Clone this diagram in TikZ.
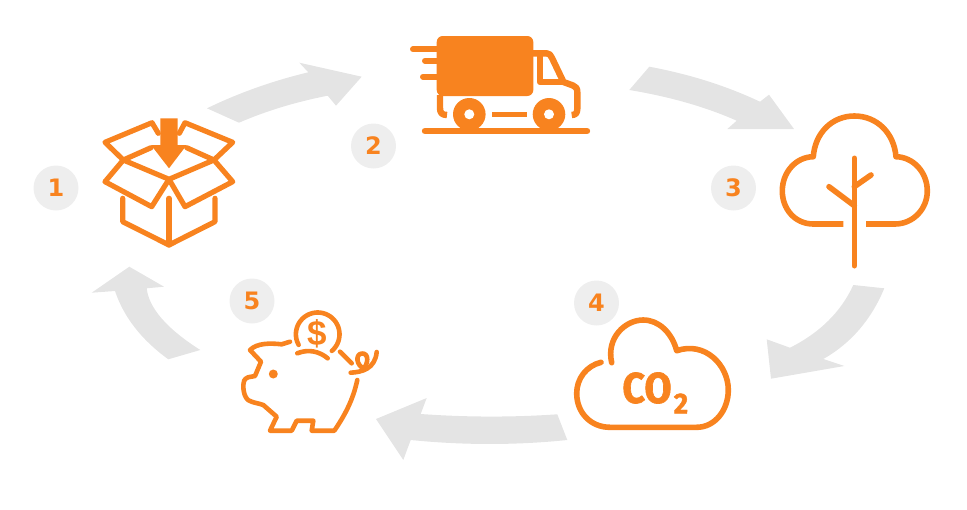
\documentclass[tikz,border=0pt]{standalone}
\usepackage{graphicx}
\usepackage{fontspec}
\setmainfont{DejaVu Sans}
\newfontfamily\labelfont[BoldFeatures={FakeBold=1.6}]{Fira Sans}
\newfontfamily\moneyfont{Liberation Sans}
\definecolor{brand}{HTML}{F8831F}
\definecolor{flow}{HTML}{E4E4E4}
\definecolor{badge}{HTML}{EEEEEE}
\tikzset{
  icon/.style={draw=brand,line width=#1,line cap=round,line join=round},
  icon/.default=5pt,
  flat/.style={icon=#1,line cap=butt},
  flat/.default=5pt,
  solid fill/.style={fill=brand,draw=none},
  flowarrow/.style={fill=flow,draw=none},
  numberbadge/.style={circle,fill=badge,draw=none,minimum size=45pt,inner sep=0pt,
    text=brand,font=\fontsize{24}{24}\selectfont\bfseries}
}
\begin{document}
\begin{tikzpicture}[x=1pt,y=-1pt]
\useasboundingbox (0,0) rectangle (967,509);

% Curved flow arrows
\fill[flowarrow] (207,108.3) .. controls (239,92.8) and (272.8,80.8) .. (308.3,72.3) -- (299.3,62.7) -- (361.7,76.7)
  -- (336,105.7) -- (327.7,95.7) .. controls (295.9,101.9) and (266.3,110.9) .. (239,122.7) -- cycle;
\fill[flowarrow] (649.3,66.7) .. controls (689.8,74.2) and (726.7,86) .. (760,101.7) -- (769,94.7) -- (794,129)
  -- (727.3,129) -- (736.7,120.7) .. controls (705.6,106.9) and (669.8,96.7) .. (629.3,90) -- cycle;
\fill[flowarrow] (853.3,285) -- (884.3,288.3) .. controls (871.4,319.4) and (851.1,343.3) .. (823.3,359) -- (844.3,366)
  -- (771,378.7) -- (766.7,339.3) -- (790,347.7) .. controls (820,332.6) and (841.1,311.7) .. (853.3,285) -- cycle;
\fill[flowarrow] (557.3,414.3) -- (567.3,440) .. controls (515.8,445.3) and (463.8,445.3) .. (410.7,440) -- (403.3,460)
  -- (376,419) -- (426.7,398) -- (420.7,414) .. controls (466.9,417.3) and (512.3,417.4) .. (557.3,414.3) -- cycle;
\fill[flowarrow] (200.3,350) -- (168.3,359.3) .. controls (141.4,339.8) and (123.7,317) .. (115,291) -- (91.7,292.7)
  -- (129.3,266.7) -- (164,286.7) -- (146.7,288.3) .. controls (148.9,308.1) and (166.8,328.7) .. (200.3,350) -- cycle;

% Step numbers
\node[numberbadge] (n1) at (56,188) {1};
\node[numberbadge] (n2) at (373.5,146) {2};
\node[numberbadge] (n3) at (733.5,188) {3};
\node[numberbadge] (n4) at (596.5,303) {4};
\node[numberbadge] (n5) at (252,301) {5};

% Open parcel
\draw[icon=5.2pt] (151,147.7) -- (123.3,160) -- (169,179.3) -- (214,160) -- (186.7,147.7);
\draw[icon=5.2pt] (123.3,160) -- (105,142.3) -- (152,122.7) -- (158.3,133.3);
\draw[icon=5.2pt] (214,160) -- (232.7,142.3) -- (185,122.7) -- (179.3,133.3);
\draw[icon=5.2pt] (123.3,160) -- (105,181.7) -- (151.7,206.7) -- (169,179.3)
  -- (185,206.7) -- (232.7,181.7) -- (214,160);
\draw[icon=5.2pt] (122.7,198.3) -- (122.7,221.7) -- (169,245) -- (215,221.7) -- (215,198.3);
\draw[icon=5.2pt] (169,198.3) -- (169,245);
\fill[solid fill] (160.3,118.3) -- (177.7,118.3) -- (177.7,145) -- (186.7,145) -- (169,168.3)
  -- (151,145) -- (160.3,145) -- cycle;

% Delivery truck
\fill[solid fill,rounded corners=6pt] (436.7,96) rectangle (533.3,36);
\draw[flat=6.4pt] (440,95) -- (440,108) .. controls (440,113) and (442,115) .. (447,115);
\draw[icon=6pt] (413,49.3) -- (437,49.3);
\draw[icon=6pt] (425,60.7) -- (437,60.7);
\draw[icon=6pt] (423,76.7) -- (437,76.7);
\draw[flat=6.4pt] (533,53.3) -- (546.7,53.3) .. controls (549,53.3) and (551,55) .. (552,58)
  -- (563.5,82) -- (573,85.5) .. controls (576,86.5) and (577.3,88.5) .. (577.3,92) -- (577.3,109)
  .. controls (577.3,113) and (575.5,115) .. (571.7,115);
\draw[flat=6.4pt] (540,53.3) -- (540,82) -- (563.5,82);
\fill[solid fill] (469.3,114.3) circle[radius=16.3pt];
\fill[solid fill] (549,114.3) circle[radius=16.3pt];
\fill[white] (469.3,114.3) circle[radius=5pt];
\fill[white] (549,114.3) circle[radius=5pt];
\fill[solid fill] (492.3,111.7) rectangle (526.7,117.3);
\draw[icon=6.4pt] (425,131) -- (587,131);

% Tree
\draw[flat=5.6pt] (843.3,224) -- (813.3,224) .. controls (795,224) and (782.3,209) .. (782.3,191)
  .. controls (782.3,172) and (796,157) .. (813.3,156.7)
  .. controls (815,133) and (832,116) .. (854.3,116)
  .. controls (877,116) and (894,133) .. (896,156.7)
  .. controls (913,157) and (927.3,172) .. (927.3,191)
  .. controls (927.3,209) and (913,224) .. (895,224) -- (866,224);
\draw[icon=5.6pt] (854.3,158.3) -- (854.3,265.7);
\draw[icon=5.6pt] (829,186.7) -- (854.3,205.7);
\draw[icon=5.6pt] (871,175) -- (854.3,186.7);

% Cloud with label
\draw[icon=5.6pt] (601,362.3) .. controls (586,366) and (576.7,379) .. (576.7,393.3)
  .. controls (576.7,413) and (591,427.3) .. (610,427.3) -- (696.7,427.3)
  .. controls (715,427.3) and (728.3,410) .. (728.3,390)
  .. controls (728.3,365) and (705,341) .. (676.7,350.7)
  .. controls (672,333) and (659,320) .. (643.3,320)
  .. controls (625,320) and (606,338) .. (611.7,362.7);
\node[inner sep=0pt,text=brand,font=\labelfont\fontsize{43}{43}\selectfont\bfseries] (co) at (647,388)
  {\scalebox{0.92}[1]{CO}};
\node[inner sep=0pt,text=brand,font=\labelfont\fontsize{29}{29}\selectfont\bfseries] (sub) at (681,403.5)
  {\scalebox{0.95}[1]{2}};

% Piggy bank with coin
\draw[icon=4.6pt] plot[domain=151:409.5,samples=50] ({317.7+21.8*cos(\x)},{334.3+21.8*sin(\x)});
\node[inner sep=0pt,text=brand,font=\moneyfont\fontsize{35}{35}\selectfont\bfseries] (coin) at (317.7,334) {\$};
\draw[icon=4.6pt] (297.3,353.3) .. controls (308,349) and (319,351) .. (327.7,358.3);
\draw[icon=4.6pt] (340,351.7) -- (351.7,363.3);
\draw[icon=4.6pt] (290,341.7) -- (281.7,344.3) .. controls (270,343) and (257,343) .. (250,350)
  -- (261,361.7) -- (255,376) -- (248,377.3) .. controls (244,379) and (243.3,382) .. (243.3,385)
  .. controls (243.3,393) and (245,397) .. (248,400) .. controls (253,403) and (258,403) .. (263.3,405)
  -- (276.7,416.7) -- (270,430.7) -- (291.7,430.7) -- (296.7,420.7) -- (313.3,420.7)
  -- (311.7,430.7) -- (334.3,430.7) .. controls (345,415) and (353,400) .. (357.3,380);
\fill[solid fill] (273.3,374) circle[radius=4.5pt];
\draw[icon=4.6pt] (350.7,372.7) .. controls (362,372) and (375,369) .. (376.7,352);
\draw[icon=4.6pt] (365,369) .. controls (356,366) and (355,354) .. (362,353.5)
  .. controls (369,353) and (369,364) .. (362,370.5);
\end{tikzpicture}
\end{document}
